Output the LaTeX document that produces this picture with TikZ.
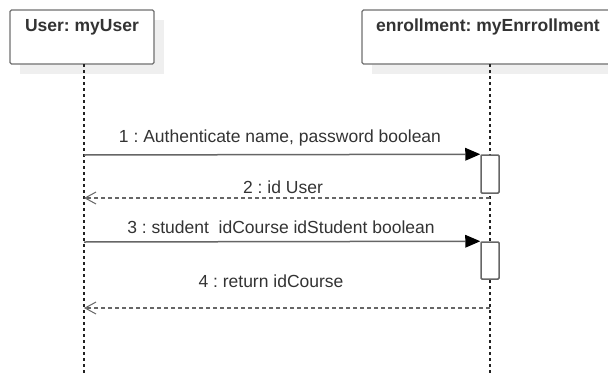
\documentclass[tikz,border=0pt]{standalone}
\usepackage{fontspec}
\setmainfont{Liberation Sans}
\usetikzlibrary{arrows.meta}
\definecolor{boxgray}{HTML}{707070}
\definecolor{shadowgray}{HTML}{EFEFEF}
\definecolor{linegray}{HTML}{666666}
\definecolor{lifegray}{HTML}{222222}
\definecolor{txtgray}{HTML}{333333}
\tikzset{
  objbox/.style={draw=boxgray, line width=1.3pt, fill=white, rounded corners=1.5pt, inner sep=0pt},
  titletxt/.style={font=\fontsize{17.5}{20}\selectfont\bfseries, text=txtgray, inner sep=0pt},
  msgtxt/.style={font=\fontsize{17.5}{20}\selectfont, text=txtgray, inner sep=0pt},
  lifeline/.style={draw=lifegray, line width=1.2pt, dash pattern=on 3pt off 3pt},
  actbox/.style={draw=linegray, line width=1.5pt, fill=white, rounded corners=1pt, minimum width=18pt, inner sep=0pt},
  callmsg/.style={draw=linegray, line width=1.5pt, -{Triangle[length=15pt,width=13pt,color=black,line width=0pt]}},
  retmsg/.style={draw=linegray, line width=1.3pt, dash pattern=on 4pt off 3pt, -{Straight Barb[length=11pt,width=12pt,line width=1pt]}}
}
\begin{document}
\frenchspacing
\begin{tikzpicture}[x=1pt,y=-1pt]
\useasboundingbox (0,0) rectangle (608,375);
% shadows
\fill[shadowgray] (20,20) rectangle (164,74);
\fill[shadowgray] (372,20) rectangle (628,74);
% object boxes
\node[objbox, minimum width=144pt, minimum height=54pt] (user) at (82,37) {};
\node[titletxt] (usertitle) at (82,27) {User: myUser};
\node[objbox, minimum width=256pt, minimum height=54pt] (enr) at (490,37) {};
\node[titletxt] (enrtitle) at (488,27) {enrollment: myEnrrollment};
% lifeline coordinates
\coordinate (utop) at (84,64);
\coordinate (ubot) at (84,375);
\coordinate (etop) at (490,64);
\coordinate (ebot) at (490,375);
\draw[lifeline] (utop) -- (ubot);
\draw[lifeline] (etop) -- (ebot);
% activation boxes
\node[actbox, minimum height=38pt] (act1) at (490,174) {};
\node[actbox, minimum height=37pt] (act2) at (490,260.5) {};
% message coordinates
\coordinate (m1s) at (84,155);
\coordinate (r2s) at (490,198);
\coordinate (r2e) at (84,198);
\coordinate (m3s) at (84,242);
\coordinate (r4s) at (490,308);
\coordinate (r4e) at (84,308);
% messages
\draw[callmsg] (m1s) -- (act1.north west);
\node[msgtxt] (l1) at (280,138) {1 : Authenticate name, password boolean};
\draw[retmsg] (r2s) -- (r2e);
\node[msgtxt] (l2) at (283,187) {2 : id User};
\draw[callmsg] (m3s) -- (act2.north west);
\node[msgtxt] (l3) at (281,227) {3 : student\ \ idCourse idStudent boolean};
\draw[retmsg] (r4s) -- (r4e);
\node[msgtxt] (l4) at (271,281) {4 : return idCourse};
\end{tikzpicture}
\end{document}
